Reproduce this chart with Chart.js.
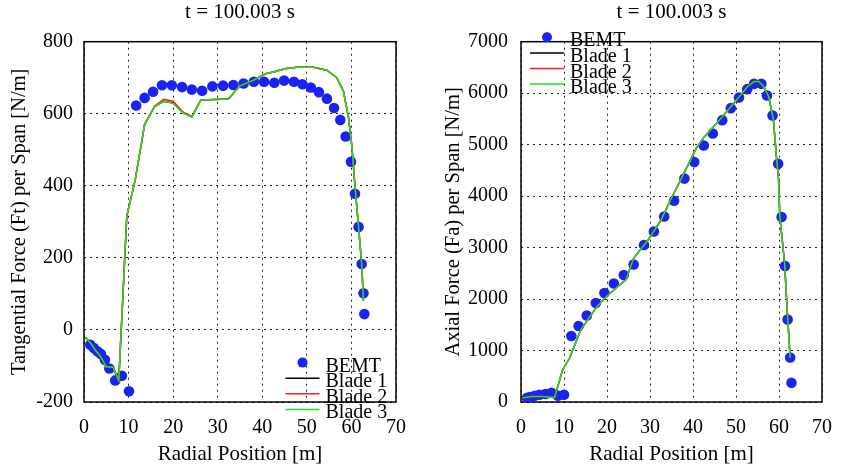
<!DOCTYPE html>
<html>
<head>
<meta charset="utf-8">
<script src="https://cdn.jsdelivr.net/npm/chart.js@4.4.1/dist/chart.umd.min.js"></script>
<style>
  html, body { margin: 0; padding: 0; background: #fff; }
  #wrap { position: relative; width: 846px; height: 472px; }
  canvas { position: absolute; top: 0; }
</style>
</head>
<body>
<div id="wrap">
  <canvas id="ft-chart" width="423" height="472" style="left:0"></canvas>
  <canvas id="fa-chart" width="423" height="472" style="left:423px"></canvas>
</div>
<script>
// tangential force per span (left plot)
const ftBemtR = [1.4, 2.2, 3.0, 3.8, 4.7, 5.7, 7.0, 8.5, 10.1, 11.7, 13.6, 15.5, 17.5, 19.7, 22.0, 24.2, 26.5,
  28.8, 31.2, 33.5, 35.8, 38.1, 40.4, 42.7, 44.9, 47.1, 49.0, 50.9, 52.7, 54.5, 56.1, 57.5, 58.7, 59.9,
  60.8, 61.6, 62.3, 62.7, 62.9];
const ftBemt = [-41, -50, -59, -67, -83, -107, -140, -127, -170, 623, 644, 661, 679, 679, 674, 667, 664,
  676, 678, 680, 684, 689, 689, 686, 692, 689, 682, 673, 660, 642, 616, 583, 537, 467,
  378, 286, 183, 102, 44];
const ftBladeR = [0.3, 1.5, 2.5, 3.8, 5.0, 6.5, 7.8, 9.6, 11.5, 13.6, 15.8, 17.9, 20.0, 22.2, 24.2, 26.2,
  32.4, 34.9, 38.0, 40.7, 42.5, 45.1, 47.8, 51.5, 54.5, 56.7, 58.2, 59.3, 60.1, 60.8, 61.6, 62.3, 62.7];
const ftBlade1 = [-20, -37, -55, -75, -103, -103, -140, 316, 417, 570, 619, 635, 630, 603, 591, 638,
  641, 677, 693, 711, 716, 725, 729, 729, 721, 700, 663, 593, 510, 399, 286, 183, 81];
const ftBlade2 = [-20, -37, -55, -75, -103, -103, -140, 316, 417, 571, 621, 640, 635, 605, 592, 638,
  641, 677, 693, 711, 716, 725, 729, 729, 721, 700, 663, 593, 510, 399, 286, 183, 81];
const ftBlade3 = [-20, -37, -55, -75, -103, -103, -140, 316, 417, 570, 619, 635, 629, 602, 590, 638,
  641, 677, 693, 711, 716, 725, 729, 729, 721, 700, 663, 593, 510, 399, 286, 183, 81];

// axial force per span (right plot)
const faBemtR = [1.4, 2.1, 3.2, 4.3, 5.7, 7.1, 8.6, 10.0, 11.7, 13.4, 15.3, 17.4, 19.4, 21.6, 23.9, 26.2,
  28.6, 30.9, 33.3, 35.6, 38.0, 40.3, 42.5, 44.6, 46.8, 48.8, 50.7, 52.6, 54.2, 55.9, 57.2, 58.5,
  59.8, 60.6, 61.4, 62.0, 62.6, 62.9];
const faBemt = [80, 97, 122, 142, 155, 181, 122, 142, 1282, 1476, 1682, 1922, 2117, 2303, 2466, 2672,
  3049, 3313, 3605, 3909, 4340, 4661, 4983, 5216, 5476, 5709, 5915, 6078, 6181, 6181, 5954, 5566,
  4628, 3593, 2641, 1604, 866, 375];
const faBladeR = [0.3, 2.5, 4.8, 7.8, 9.7, 11.3, 13.9, 17.7, 19.9, 22.1, 24.4, 26.2, 29.6, 32.6, 34.8,
  37.5, 40.8, 42.4, 44.5, 47.5, 50.5, 52.7, 54.2, 55.3, 56.4, 57.6, 58.7, 59.4, 59.9, 60.2, 61.3, 62.0, 62.6];
const faBlade1 = [80, 109, 109, 89, 627, 854, 1404, 1857, 2051, 2214, 2375, 2796, 3152, 3540, 3929,
  4380, 4933, 5127, 5321, 5612, 5904, 6129, 6226, 6226, 6129, 5935, 5482, 4770, 4317, 3604, 2700, 1662, 854];
const faBlade2 = faBlade1.slice();
const faBlade3 = faBlade1.slice();

const xTicks = [0, 10, 20, 30, 40, 50, 60, 70];

const SERIF = "'Liberation Serif', 'Times New Roman', serif";
Chart.defaults.font.family = SERIF;
Chart.defaults.font.size = 20;
Chart.defaults.color = '#000';

function toPoints(xs, ys) {
    return xs.map((x, i) => ({ x: x, y: ys[i] }));
}

// solid box around the plot area
const framePlugin = {
    id: 'frame',
    beforeDatasetsDraw(chart) {
        const a = chart.chartArea;
        const ctx = chart.ctx;
        ctx.save();
        ctx.strokeStyle = '#000';
        ctx.lineWidth = 1.5;
        ctx.strokeRect(a.left, a.top, a.right - a.left, a.bottom - a.top);
        ctx.restore();
    }
};

// legend drawn in the gnuplot style: marker/line sample then text, rows overlapping
const legendPlugin = {
    id: 'plotLegend',
    afterDraw(chart, args, opts) {
        const a = chart.chartArea;
        const ctx = chart.ctx;
        const cx = opts.corner === 'bottomRight' ? a.right - 93.5 : a.left + 26;
        let y = opts.corner === 'bottomRight' ? a.bottom - 39.4 : a.top - 4.4;
        ctx.save();
        ctx.font = '20px ' + SERIF;
        ctx.textBaseline = 'alphabetic';
        ctx.textAlign = 'left';
        chart.data.datasets.forEach(ds => {
            if (ds.showLine) {
                ctx.strokeStyle = ds.borderColor;
                ctx.lineWidth = 1.5;
                ctx.beginPath();
                ctx.moveTo(cx - 17, y);
                ctx.lineTo(cx + 17, y);
                ctx.stroke();
            } else {
                ctx.fillStyle = ds.backgroundColor;
                ctx.beginPath();
                ctx.arc(cx, y, 5, 0, Math.PI * 2);
                ctx.fill();
            }
            ctx.fillStyle = '#000';
            ctx.fillText(ds.label, cx + 23, y + 9);
            y += 15.6;
        });
        ctx.restore();
    }
};

function makeChart(id, cfg) {
    const ctx = document.getElementById(id).getContext('2d');
    return new Chart(ctx, {
        type: 'scatter',
        data: {
            datasets: [
                { label: 'BEMT', data: toPoints(cfg.bemtR, cfg.bemt), backgroundColor: 'rgb(25,35,245)',
                  borderWidth: 0, pointRadius: 5.3, showLine: false, order: 3 },
                { label: 'Blade 1', data: toPoints(cfg.bladeR, cfg.blade1), borderColor: '#000',
                  borderWidth: 1.5, pointRadius: 0, showLine: true, order: 2 },
                { label: 'Blade 2', data: toPoints(cfg.bladeR, cfg.blade2), borderColor: '#ff2020',
                  borderWidth: 1.5, pointRadius: 0, showLine: true, order: 1 },
                { label: 'Blade 3', data: toPoints(cfg.bladeR, cfg.blade3), borderColor: '#22e022',
                  borderWidth: 1.5, pointRadius: 0, showLine: true, order: 0 }
            ]
        },
        options: {
            responsive: false,
            animation: false,
            devicePixelRatio: 1,
            layout: { padding: { left: 0, top: 0, right: cfg.padRight, bottom: 0 } },
            plugins: {
                legend: { display: false },
                tooltip: { enabled: false },
                title: {
                    display: true,
                    text: 't = 100.003 s',
                    fullSize: false,
                    color: '#000',
                    font: { size: 21, weight: 'normal' },
                    padding: { top: 0, bottom: 16.5 }
                },
                plotLegend: { corner: cfg.legendCorner }
            },
            scales: {
                x: {
                    type: 'linear',
                    min: 0,
                    max: 70,
                    afterBuildTicks: s => { s.ticks = xTicks.map(v => ({ value: v })); },
                    afterFit: s => { s.height = 70; },
                    ticks: { padding: 14, callback: v => String(v) },
                    grid: { color: '#222', lineWidth: 1, drawTicks: false },
                    border: { display: false, dash: [2, 4] },
                    title: { display: true, text: 'Radial Position [m]', font: { size: 21 },
                             padding: { top: 0, bottom: 5 } }
                },
                y: {
                    type: 'linear',
                    min: cfg.yTicks[0],
                    max: cfg.yTicks[cfg.yTicks.length - 1],
                    afterBuildTicks: s => { s.ticks = cfg.yTicks.map(v => ({ value: v })); },
                    afterFit: s => { s.width = cfg.yWidth; },
                    ticks: { padding: cfg.yPad, callback: v => String(v) },
                    grid: { color: '#222', lineWidth: 1, drawTicks: false },
                    border: { display: false, dash: [2, 4] },
                    title: { display: true, text: cfg.yTitle, font: { size: 20.5 },
                             padding: { top: cfg.yTitlePad, bottom: 0 } }
                }
            }
        },
        plugins: [framePlugin, legendPlugin]
    });
}

makeChart('ft-chart', {
    bemtR: ftBemtR, bemt: ftBemt,
    bladeR: ftBladeR, blade1: ftBlade1, blade2: ftBlade2, blade3: ftBlade3,
    yTicks: [-200, 0, 200, 400, 600, 800],
    yTitle: 'Tangential Force (Ft) per Span [N/m]',
    yWidth: 84, yPad: 11, yTitlePad: 7, padRight: 27,
    legendCorner: 'bottomRight'
});

makeChart('fa-chart', {
    bemtR: faBemtR, bemt: faBemt,
    bladeR: faBladeR, blade1: faBlade1, blade2: faBlade2, blade3: faBlade3,
    yTicks: [0, 1000, 2000, 3000, 4000, 5000, 6000, 7000],
    yTitle: 'Axial Force (Fa) per Span [N/m]',
    yWidth: 98, yPad: 13, yTitlePad: 18, padRight: 13,
    legendCorner: 'topLeft'
});
</script>
</body>
</html>
